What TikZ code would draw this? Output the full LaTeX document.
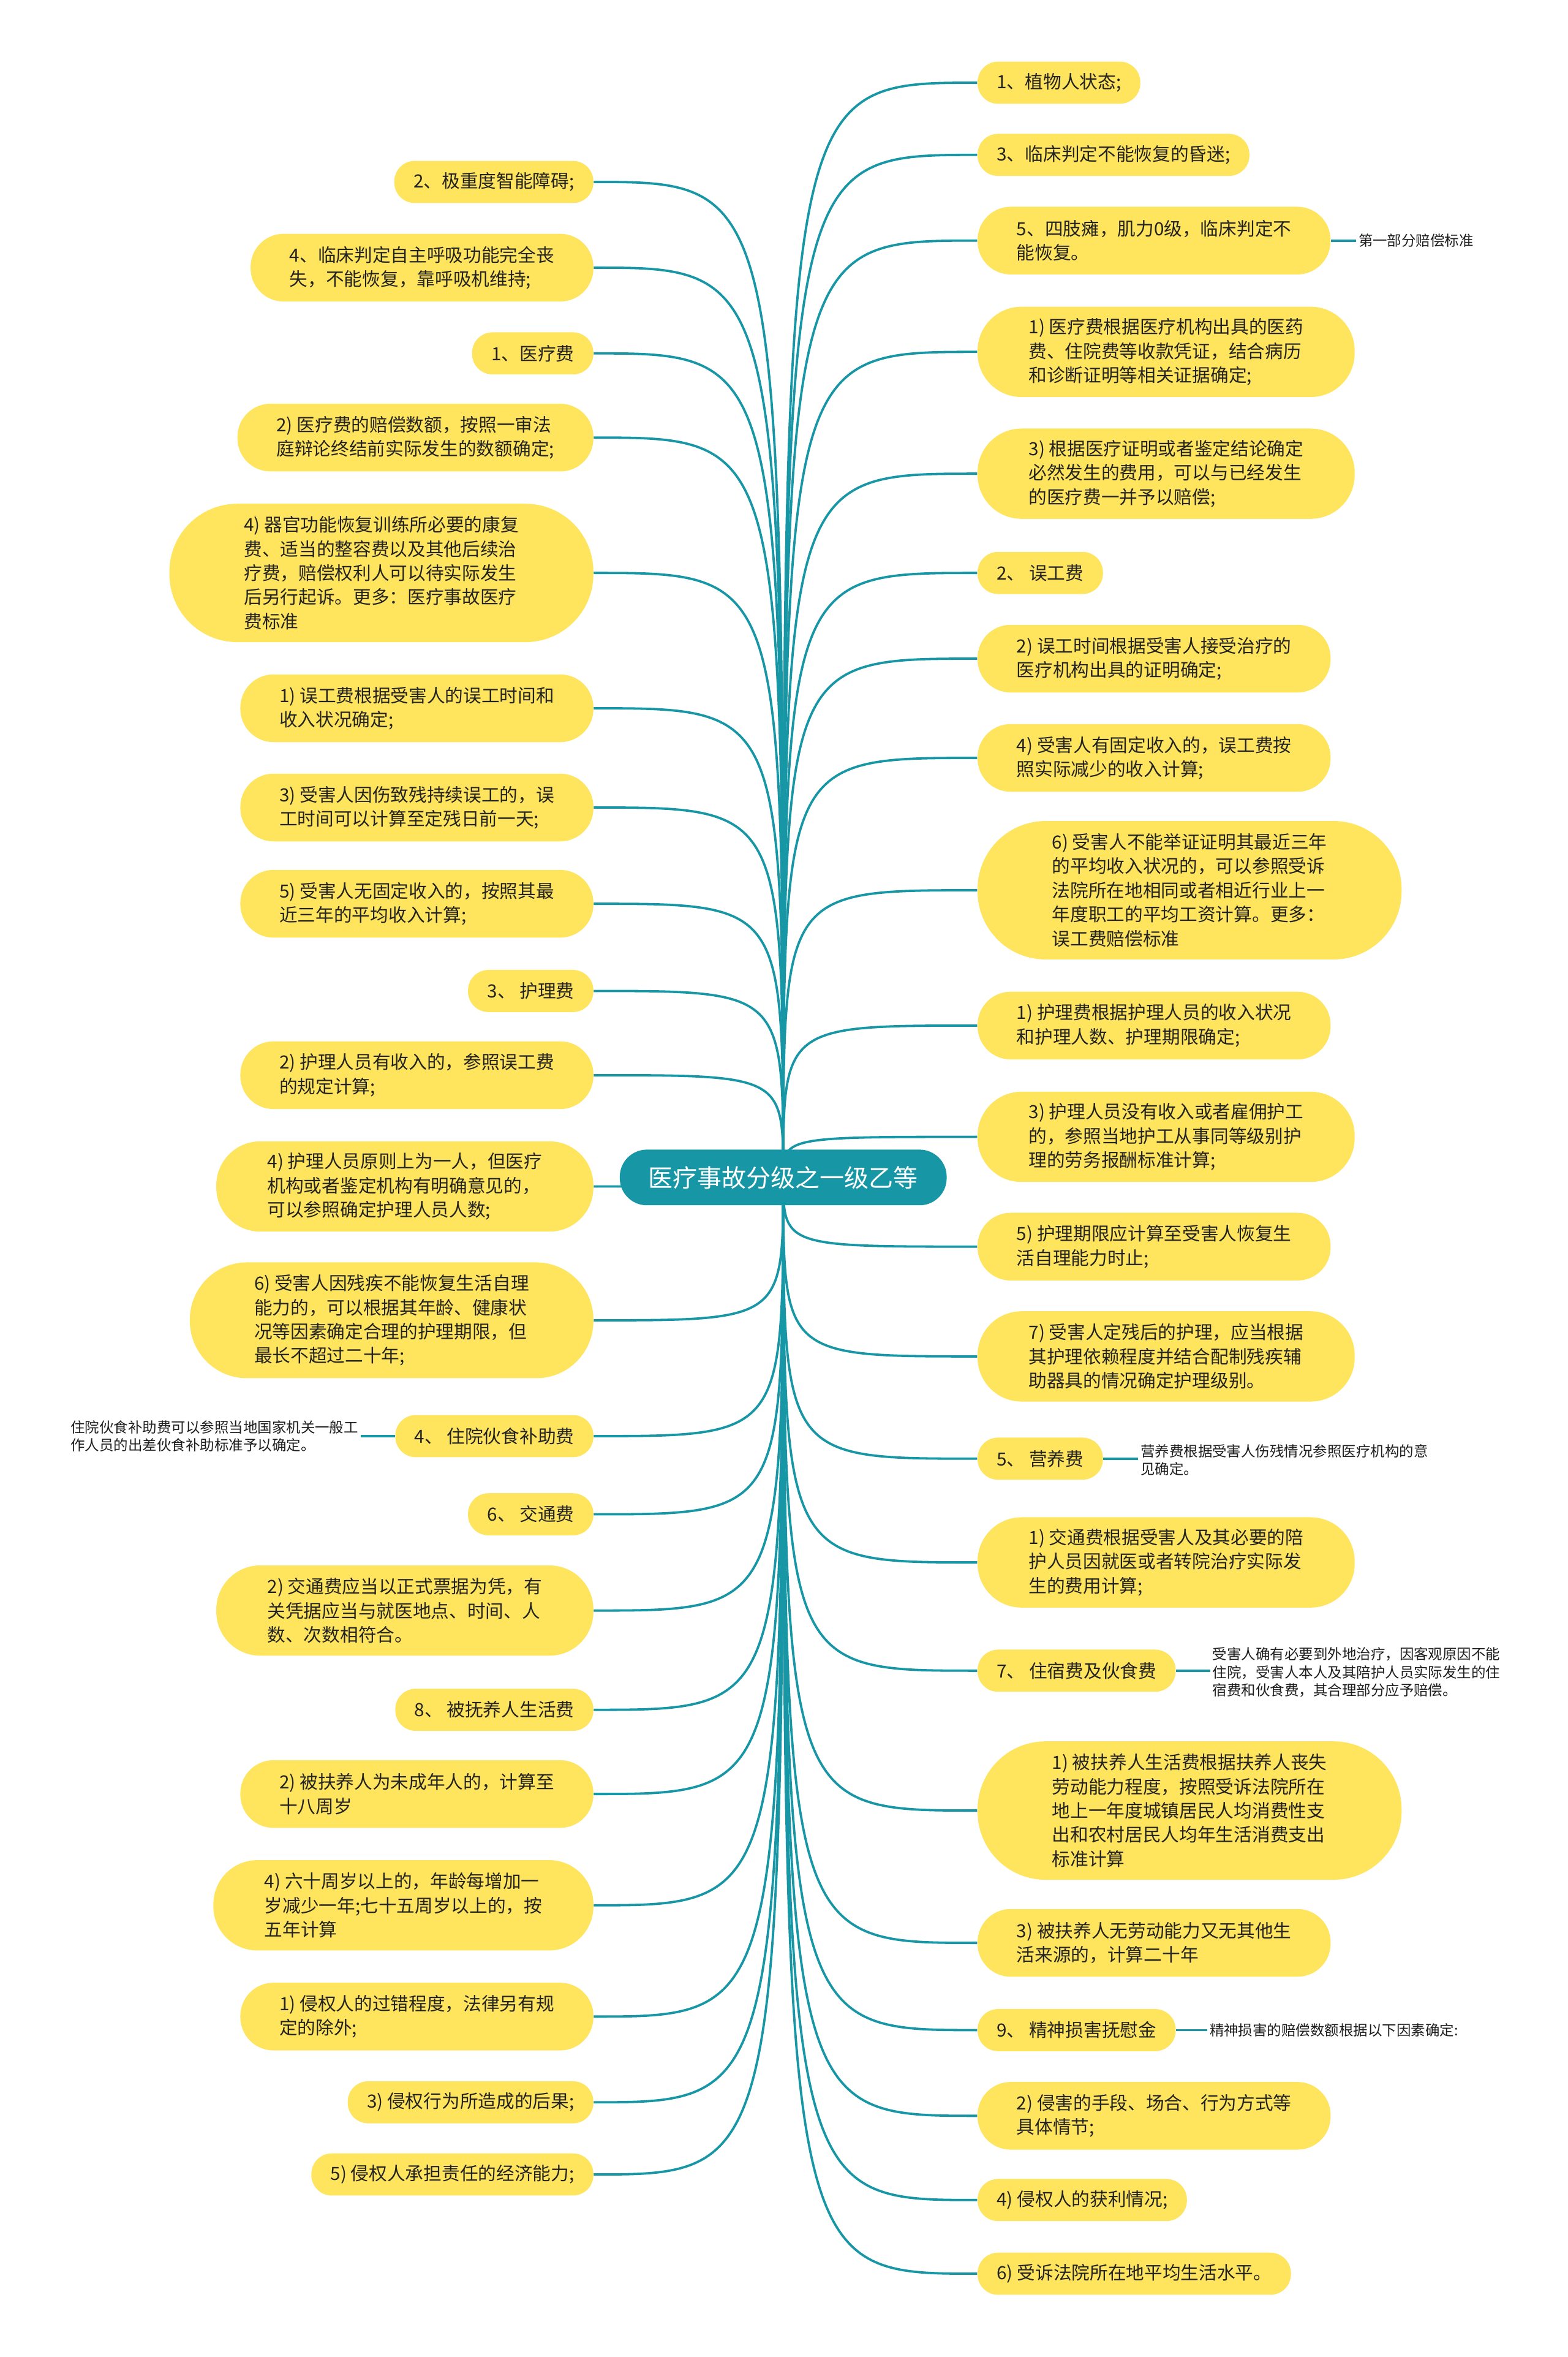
\documentclass[tikz,border=0pt]{standalone}
\usepackage{fontspec}
\setmainfont{Noto Sans CJK SC}
\usetikzlibrary{backgrounds}
\definecolor{rootbg}{RGB}{23,151,166}
\definecolor{leafbg}{RGB}{255,228,94}
\definecolor{linkcolor}{RGB}{23,151,166}
\definecolor{textcolor}{RGB}{35,35,35}
\definecolor{notecolor}{RGB}{30,30,30}
\tikzset{
  root/.style={fill=rootbg, text=white, font=\fontsize{11.6}{14}\selectfont,
    minimum height=0.925cm, inner xsep=0.475cm, inner ysep=0pt, rounded corners=0.45cm},
  leaf/.style={fill=leafbg, text=textcolor, align=left,
    font=\fontsize{8.6}{11.4}\selectfont, inner ysep=0pt},
  leafa/.style={leaf, minimum height=0.7cm, inner xsep=0.32cm, rounded corners=0.34cm},
  leafb/.style={leaf, minimum height=1.125cm, inner xsep=0.65cm, rounded corners=0.55cm},
  leafc/.style={leaf, minimum height=1.5cm, inner xsep=0.85cm, rounded corners=0.73cm},
  leafd/.style={leaf, minimum height=1.925cm, inner xsep=1.07cm, rounded corners=0.95cm},
  leafe/.style={leaf, minimum height=2.3cm, inner xsep=1.24cm, rounded corners=1.13cm},
  note/.style={text=notecolor, align=left, font=\fontsize{6.8}{8.5}\selectfont, inner sep=1pt},
  link/.style={draw=linkcolor, line width=1.1pt}
}

\begin{document}
\begin{tikzpicture}[x=0.025cm, y=-0.025cm]

% 1. CENTRAL TOPIC
\node[root] (root) at (521,783) {医疗事故分级之一级乙等};

% 2. LEFT BRANCHES
\node[leafa, anchor=east] (l1) at (395,121) {2、极重度智能障碍;};
\node[leafb, anchor=east] (l2) at (395,178) {4、临床判定自主呼吸功能完全丧\\失，不能恢复，靠呼吸机维持;};
\node[leafa, anchor=east] (l3) at (395,235) {1、医疗费};
\node[leafb, anchor=east] (l4) at (395,291) {2) 医疗费的赔偿数额，按照一审法\\庭辩论终结前实际发生的数额确定;};
\node[leafe, anchor=east] (l5) at (395,381) {4) 器官功能恢复训练所必要的康复\\费、适当的整容费以及其他后续治\\疗费，赔偿权利人可以待实际发生\\后另行起诉。更多：医疗事故医疗\\费标准};
\node[leafb, anchor=east] (l6) at (395,471) {1) 误工费根据受害人的误工时间和\\收入状况确定;};
\node[leafb, anchor=east] (l7) at (395,537) {3) 受害人因伤致残持续误工的，误\\工时间可以计算至定残日前一天;};
\node[leafb, anchor=east] (l8) at (395,601) {5) 受害人无固定收入的，按照其最\\近三年的平均收入计算;};
\node[leafa, anchor=east] (l9) at (395,659) {3、 护理费};
\node[leafb, anchor=east] (l10) at (395,715) {2) 护理人员有收入的，参照误工费\\的规定计算;};
\node[leafc, anchor=east] (l11) at (395,789) {4) 护理人员原则上为一人，但医疗\\机构或者鉴定机构有明确意见的，\\可以参照确定护理人员人数;};
\node[leafd, anchor=east] (l12) at (395,878) {6) 受害人因残疾不能恢复生活自理\\能力的，可以根据其年龄、健康状\\况等因素确定合理的护理期限，但\\最长不超过二十年;};
\node[leafa, anchor=east] (l13) at (395,955) {4、 住院伙食补助费};
\node[leafa, anchor=east] (l14) at (395,1007) {6、 交通费};
\node[leafc, anchor=east] (l15) at (395,1071) {2) 交通费应当以正式票据为凭，有\\关凭据应当与就医地点、时间、人\\数、次数相符合。};
\node[leafa, anchor=east] (l16) at (395,1137) {8、 被抚养人生活费};
\node[leafb, anchor=east] (l17) at (395,1193) {2) 被扶养人为未成年人的，计算至\\十八周岁};
\node[leafc, anchor=east] (l18) at (395,1267) {4) 六十周岁以上的，年龄每增加一\\岁减少一年;七十五周岁以上的，按\\五年计算};
\node[leafb, anchor=east] (l19) at (395,1341) {1) 侵权人的过错程度，法律另有规\\定的除外;};
\node[leafa, anchor=east] (l20) at (395,1398) {3) 侵权行为所造成的后果;};
\node[leafa, anchor=east] (l21) at (395,1446) {5) 侵权人承担责任的经济能力;};

% 3. RIGHT BRANCHES
\node[leafa, anchor=west] (r1) at (650,55) {1、植物人状态;};
\node[leafa, anchor=west] (r2) at (650,103) {3、临床判定不能恢复的昏迷;};
\node[leafb, anchor=west] (r3) at (650,160) {5、四肢瘫，肌力0级，临床判定不\\能恢复。};
\node[leafc, anchor=west] (r4) at (650,234) {1) 医疗费根据医疗机构出具的医药\\费、住院费等收款凭证，结合病历\\和诊断证明等相关证据确定;};
\node[leafc, anchor=west] (r5) at (650,315) {3) 根据医疗证明或者鉴定结论确定\\必然发生的费用，可以与已经发生\\的医疗费一并予以赔偿;};
\node[leafa, anchor=west] (r6) at (650,381) {2、 误工费};
\node[leafb, anchor=west] (r7) at (650,438) {2) 误工时间根据受害人接受治疗的\\医疗机构出具的证明确定;};
\node[leafb, anchor=west] (r8) at (650,504) {4) 受害人有固定收入的，误工费按\\照实际减少的收入计算;};
\node[leafe, anchor=west] (r9) at (650,592) {6) 受害人不能举证证明其最近三年\\的平均收入状况的，可以参照受诉\\法院所在地相同或者相近行业上一\\年度职工的平均工资计算。更多：\\误工费赔偿标准};
\node[leafb, anchor=west] (r10) at (650,682) {1) 护理费根据护理人员的收入状况\\和护理人数、护理期限确定;};
\node[leafc, anchor=west] (r11) at (650,756) {3) 护理人员没有收入或者雇佣护工\\的，参照当地护工从事同等级别护\\理的劳务报酬标准计算;};
\node[leafb, anchor=west] (r12) at (650,829) {5) 护理期限应计算至受害人恢复生\\活自理能力时止;};
\node[leafc, anchor=west] (r13) at (650,902) {7) 受害人定残后的护理，应当根据\\其护理依赖程度并结合配制残疾辅\\助器具的情况确定护理级别。};
\node[leafa, anchor=west] (r14) at (650,970) {5、 营养费};
\node[leafc, anchor=west] (r15) at (650,1039) {1) 交通费根据受害人及其必要的陪\\护人员因就医或者转院治疗实际发\\生的费用计算;};
\node[leafa, anchor=west] (r16) at (650,1111) {7、 住宿费及伙食费};
\node[leafe, anchor=west] (r17) at (650,1204) {1) 被扶养人生活费根据扶养人丧失\\劳动能力程度，按照受诉法院所在\\地上一年度城镇居民人均消费性支\\出和农村居民人均年生活消费支出\\标准计算};
\node[leafb, anchor=west] (r18) at (650,1292) {3) 被扶养人无劳动能力又无其他生\\活来源的，计算二十年};
\node[leafa, anchor=west] (r19) at (650,1350) {9、 精神损害抚慰金};
\node[leafb, anchor=west] (r20) at (650,1407) {2) 侵害的手段、场合、行为方式等\\具体情节;};
\node[leafa, anchor=west] (r21) at (650,1463) {4) 侵权人的获利情况;};
\node[leafa, anchor=west] (r22) at (650,1512) {6) 受诉法院所在地平均生活水平。};

% 4. SIDE NOTES
\node[note, anchor=west] (n3) at (902,160) {第一部分赔偿标准};
\node[note, anchor=east] (n13) at (240,955) {住院伙食补助费可以参照当地国家机关一般工\\作人员的出差伙食补助标准予以确定。};
\node[note, anchor=west] (n14) at (757,971) {营养费根据受害人伤残情况参照医疗机构的意\\见确定。};
\node[note, anchor=west] (n16) at (805,1112) {受害人确有必要到外地治疗，因客观原因不能\\住院，受害人本人及其陪护人员实际发生的住\\宿费和伙食费，其合理部分应予赔偿。};
\node[note, anchor=west] (n19) at (803,1350) {精神损害的赔偿数额根据以下因素确定:};

% 5. CONNECTORS
\begin{scope}[on background layer]
\fill[white] (0,0) rectangle (1043,1567.4);
\foreach \i in {1,...,21}
  \draw[link] (root.center) .. controls (root.center |- l\i.east) .. (l\i.east);
\foreach \i in {1,...,22}
  \draw[link] (root.center) .. controls (root.center |- r\i.west) .. (r\i.west);
\draw[link] (r3.east) -- (n3.west);
\draw[link] (l13.west) -- (n13.east);
\draw[link] (r14.east) -- (n14.west |- r14.east);
\draw[link] (r16.east) -- (n16.west |- r16.east);
\draw[link] (r19.east) -- (n19.west);
\end{scope}

\end{tikzpicture}
\end{document}
